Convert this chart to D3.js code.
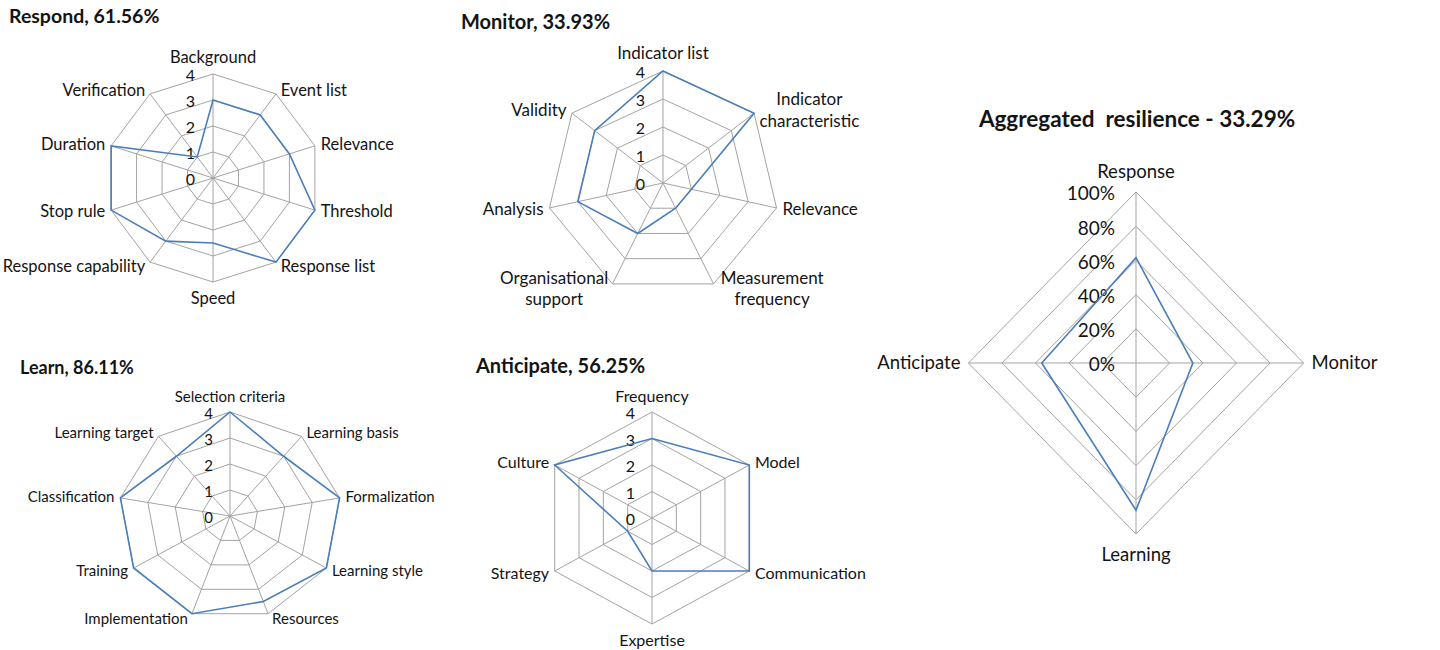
<!DOCTYPE html>
<html>
<head>
<meta charset="utf-8">
<script src="https://d3js.org/d3.v7.min.js"></script>
<style>
  body { margin: 0; background: #fff; }
  text { font-family: Lato, 'Open Sans', sans-serif; fill: #141414; }
  .ring, .spoke { fill: none; stroke: #a3a3a3; stroke-width: 1; }
  .series { fill: none; stroke: #4a7ebb; stroke-width: 1.6; stroke-linejoin: miter; }
  .title { font-weight: bold; white-space: pre; }
</style>
</head>
<body>
<svg id="chart" width="1440" height="650"></svg>
<script>

// ---- data ----
var respondAxes = ['Background', 'Event list', 'Relevance', 'Threshold', 'Response list', 'Speed',
                   'Response capability', 'Stop rule', 'Duration', 'Verification'];
var respondValues = [3, 3, 3, 4, 4, 2.5, 3, 4, 4, 1];

var monitorAxes = ['Indicator list', 'Indicator\ncharacteristic', 'Relevance', 'Measurement\nfrequency',
                   'Organisational\nsupport', 'Analysis', 'Validity'];
var monitorValues = [4, 4, 1, 1, 2, 3, 3];

var learnAxes = ['Selection criteria', 'Learning basis', 'Formalization', 'Learning style', 'Resources',
                 'Implementation', 'Training', 'Classification', 'Learning target'];
var learnValues = [4, 3, 4, 4, 3.5, 4, 4, 4, 3];

var anticipateAxes = ['Frequency', 'Model', 'Communication', 'Expertise', 'Strategy', 'Culture'];
var anticipateValues = [3, 4, 4, 2, 1, 4];

var aggregatedAxes = ['Response', 'Monitor', 'Learning', 'Anticipate'];
var aggregatedValues = [61.56, 33.93, 86.11, 56.25];

var scoreTicks = [0, 1, 2, 3, 4];
var percentTicks = [0, 20, 40, 60, 80, 100];

var svg = d3.select('#chart');

function radar(opt)
{
    var n = opt.axes.length;
    var g = svg.append('g');

    var r = d3.scaleLinear().domain([0, opt.max]).range([0, opt.radius]);
    var angle = d3.scaleLinear().domain([0, n]).range([0, 2 * Math.PI]);

    function px(i, v) { return opt.cx + opt.sx * r(v) * Math.sin(angle(i)); }
    function py(i, v) { return opt.cy - r(v) * Math.cos(angle(i)); }

    var closed = d3.line()
        .x(function (d) { return px(d.i, d.v); })
        .y(function (d) { return py(d.i, d.v); })
        .curve(d3.curveLinearClosed);

    // rings
    g.selectAll('path.ring')
        .data(opt.ticks.filter(function (t) { return t > 0; }))
        .enter().append('path')
        .attr('class', 'ring')
        .attr('d', function (t) { return closed(d3.range(n).map(function (i) { return { i: i, v: t }; })); });

    // spokes
    g.selectAll('line.spoke')
        .data(d3.range(n))
        .enter().append('line')
        .attr('class', 'spoke')
        .attr('x1', opt.cx).attr('y1', opt.cy)
        .attr('x2', function (i) { return px(i, opt.max); })
        .attr('y2', function (i) { return py(i, opt.max); });

    // tick labels
    g.selectAll('text.tick')
        .data(opt.ticks)
        .enter().append('text')
        .attr('class', 'tick')
        .attr('x', opt.cx - opt.tickDx)
        .attr('y', function (t) { return opt.cy - r(t) + opt.tickSize * 0.36 + 1.5; })
        .attr('text-anchor', 'end')
        .style('font-size', opt.tickSize + 'px')
        .text(function (t) { return opt.tickFormat ? opt.tickFormat(t) : t; });

    // series
    g.append('path')
        .attr('class', 'series')
        .attr('d', closed(opt.values.map(function (v, i) { return { i: i, v: v }; })));

    // axis labels
    var fs = opt.labelSize;
    opt.axes.forEach(function (name, i) {
        var a = angle(i);
        var s = Math.sin(a), c = Math.cos(a);
        var vx = px(i, opt.max), vy = py(i, opt.max);
        var lines = name.split('\n');
        var lh = fs * 1.25;
        var h = lines.length * lh;
        var side = Math.abs(s) < 0.05 ? 0 : (s > 0 ? 1 : -1);

        var t = g.append('text')
            .attr('class', 'axisLabel')
            .attr('text-anchor', 'middle')
            .style('font-size', fs + 'px');
        var spans = lines.map(function (l) { return t.append('tspan').text(l); });
        var w = d3.max(spans, function (sp) { return sp.node().getComputedTextLength(); });

        var bx, by;
        if (side === 0) {
            bx = vx;
            by = vy - c * (opt.pad + h / 2);
        } else {
            bx = vx + side * (opt.gap + Math.abs(s) * 3 + w / 2);
            by = vy - c * 5;
        }
        spans.forEach(function (sp, k) {
            sp.attr('x', bx)
              .attr('y', by - h / 2 + lh * k + lh / 2 + fs * 0.35);
        });
    });

    // title
    svg.append('text')
        .attr('class', 'title')
        .attr('x', opt.titleX)
        .attr('y', opt.titleY)
        .attr('text-anchor', opt.titleAnchor || 'start')
        .style('font-size', opt.titleSize + 'px')
        .text(opt.title);
}

radar({ title: 'Respond, 61.56%', titleX: 9, titleY: 23, titleSize: 19.5,
        axes: respondAxes, values: respondValues, max: 4, ticks: scoreTicks,
        cx: 213, cy: 178, radius: 104, sx: 1.03, labelSize: 16.5, tickSize: 16, tickDx: 18, pad: 6, gap: 3 });

radar({ title: 'Monitor, 33.93%', titleX: 461, titleY: 29, titleSize: 20,
        axes: monitorAxes, values: monitorValues, max: 4, ticks: scoreTicks,
        cx: 663, cy: 183, radius: 112, sx: 1.04, labelSize: 17, tickSize: 16, tickDx: 18, pad: 7, gap: 3 });

radar({ title: 'Learn, 86.11%', titleX: 20, titleY: 374, titleSize: 18,
        axes: learnAxes, values: learnValues, max: 4, ticks: scoreTicks,
        cx: 230, cy: 516, radius: 104, sx: 1.07, labelSize: 15, tickSize: 15, tickDx: 17, pad: 6, gap: 3 });

radar({ title: 'Anticipate, 56.25%', titleX: 476, titleY: 373, titleSize: 20,
        axes: anticipateAxes, values: anticipateValues, max: 4, ticks: scoreTicks,
        cx: 652, cy: 518, radius: 106, sx: 1.06, labelSize: 16, tickSize: 16, tickDx: 17, pad: 6, gap: 3 });

radar({ title: 'Aggregated  resilience - 33.29%', titleX: 1137, titleY: 127, titleSize: 22.5, titleAnchor: 'middle',
        axes: aggregatedAxes, values: aggregatedValues, max: 100, ticks: percentTicks,
        tickFormat: function (t) { return t + '%'; },
        cx: 1136, cy: 363, radius: 171, sx: 0.98, labelSize: 18.5, tickSize: 19, tickDx: 21, pad: 9, gap: 5 });

</script>
</body>
</html>
